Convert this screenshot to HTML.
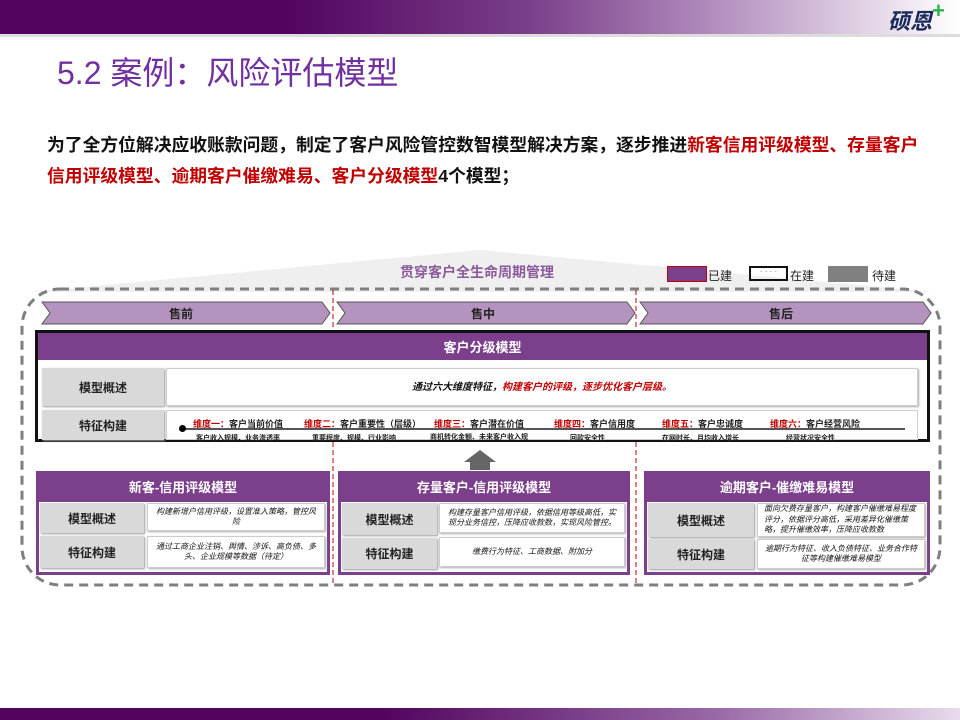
<!DOCTYPE html>
<html><head><meta charset="utf-8"><style>
*{margin:0;padding:0;box-sizing:border-box}
body{width:960px;height:720px;position:relative;overflow:hidden;background:#fff;font-family:"Liberation Sans","Noto Sans CJK SC",sans-serif}
.a{position:absolute}
.c{display:flex;align-items:center;justify-content:center;text-align:center}
.lab{background:#d9d9d9;font-weight:bold;font-size:12px;color:#222;box-shadow:1px 1px 2px #999}
.cnt{background:#fff;border:1px solid #ccc;font-size:8px;font-style:italic;color:#111;box-shadow:1px 1px 2px #aaa;line-height:1.3;padding:0 6px}
.hd{background:#7b3f8c;color:#fff;font-weight:bold;font-size:13px}
.r{color:#c00000}
.sub{font-size:7px;font-weight:bold;color:#222}
.dim{font-size:9px;font-weight:bold;color:#222}
</style></head><body>
<div class="a" style="left:0;top:0;width:960px;height:34px;background:linear-gradient(90deg,#52055f 0%,#52055f 30%,#7a3f8a 55%,#b48fbf 75%,#fff 100%)"></div>
<div class="a" style="left:0;top:34px;width:960px;height:3px;background:#ddd"></div>
<div class="a" style="left:888px;top:4px;font-size:22px;font-weight:bold;font-style:italic;color:#1a2a5a">硕恩</div>
<div class="a" style="left:932px;top:-2px;font-size:22px;font-weight:bold;color:#2db34a">+</div>
<div class="a" style="left:57px;top:48px;font-size:32px;color:#7030a0">5.2 案例：风险评估模型</div>
<div class="a" style="left:47px;top:130px;width:884px;font-size:17.8px;font-weight:bold;line-height:31px;color:#111">为了全方位解决应收账款问题，制定了客户风险管控数智模型解决方案，逐步推进<span class="r">新客信用评级模型、存量客户信用评级模型、逾期客户催缴难易、客户分级模型</span>4个模型；</div>
<svg class="a" style="left:0;top:0" width="960" height="720">
<polygon points="30,292 480,250 935,292" fill="#efefef"/>
<rect x="22" y="289" width="918" height="296" rx="38" fill="none" stroke="#7f7f7f" stroke-width="3" stroke-dasharray="9,6"/>
<line x1="333" y1="290" x2="333" y2="585" stroke="#c00000" stroke-dasharray="5,3"/>
<line x1="636" y1="290" x2="636" y2="585" stroke="#c00000" stroke-dasharray="5,3"/>
<polygon points="42,302 322,302 330,313 322,324 42,324 50,313" fill="#b593bf" stroke="#555"/>
<polygon points="337,302 627,302 635,313 627,324 337,324 345,313" fill="#b593bf" stroke="#555"/>
<polygon points="640,302 923,302 931,313 923,324 640,324 648,313" fill="#b593bf" stroke="#555"/>
<text x="181" y="318" font-size="12" font-weight="bold" text-anchor="middle" fill="#222">售前</text>
<text x="483" y="318" font-size="12" font-weight="bold" text-anchor="middle" fill="#222">售中</text>
<text x="781" y="318" font-size="12" font-weight="bold" text-anchor="middle" fill="#222">售后</text>
<polygon points="470,470 470,462 464,462 480,450 496,462 490,462 490,470" fill="#666"/>
</svg>
<div class="a" style="left:400px;top:262px;font-size:14px;font-weight:bold;color:#8a5a9a">贯穿客户全生命周期管理</div>
<div class="a" style="left:667px;top:266px;width:40px;height:16px;background:#7b3f8c;border:1px solid #c00000"></div>
<div class="a" style="left:708px;top:267px;font-size:12px;color:#222">已建</div>
<div class="a" style="left:749px;top:266px;width:39px;height:15px;border:2px solid #111;font-size:8px;text-align:center;line-height:8px;color:#666">· · · ·</div>
<div class="a" style="left:790px;top:267px;font-size:12px;color:#222">在建</div>
<div class="a" style="left:828px;top:266px;width:40px;height:16px;background:#808080"></div>
<div class="a" style="left:872px;top:267px;font-size:12px;color:#222">待建</div>

<div class="a" style="left:35px;top:330px;width:895px;height:112px;border:3px solid #111;background:#fff"></div>
<div class="a hd c" style="left:38px;top:333px;width:889px;height:27px">客户分级模型</div>
<div class="a lab c" style="left:42px;top:368px;width:122px;height:38px">模型概述</div>
<div class="a cnt c" style="left:166px;top:368px;width:752px;height:38px;font-size:10px;font-weight:bold">通过六大维度特征，<span class="r">构建客户的评级，逐步优化客户层级。</span></div>
<div class="a lab c" style="left:42px;top:410px;width:122px;height:30px">特征构建</div>
<div class="a" style="left:166px;top:410px;width:752px;height:30px;background:#fff;border:1px solid #ccc"></div>
<div class="a" style="left:183px;top:428px;width:722px;height:2px;background:#555"></div>
<div class="a" style="left:179px;top:425px;width:7px;height:7px;border-radius:50%;background:#000"></div>
<div class="a dim" style="left:193px;top:417px"><span class="r">维度一：</span>客户当前价值</div>
<div class="a dim" style="left:304px;top:417px"><span class="r">维度二：</span>客户重要性（层级）</div>
<div class="a dim" style="left:434px;top:417px"><span class="r">维度三：</span>客户潜在价值</div>
<div class="a dim" style="left:554px;top:417px"><span class="r">维度四：</span>客户信用度</div>
<div class="a dim" style="left:662px;top:417px"><span class="r">维度五：</span>客户忠诚度</div>
<div class="a dim" style="left:770px;top:417px"><span class="r">维度六：</span>客户经营风险</div>
<div class="a sub" style="left:196px;top:433px">客户收入规模、业务渗透率</div>
<div class="a sub" style="left:312px;top:433px">重要程度、规模、行业影响</div>
<div class="a sub" style="left:430px;top:432px">商机转化金额、未来客户收入规</div>
<div class="a sub" style="left:570px;top:433px">回款安全性</div>
<div class="a sub" style="left:662px;top:433px">在网时长、月均收入增长</div>
<div class="a sub" style="left:786px;top:433px">经营状况安全性</div>

<div class="a" style="left:36px;top:471px;width:294px;height:104px;background:#7b3f8c"></div>
<div class="a hd c" style="left:36px;top:471px;width:294px;height:31px">新客-信用评级模型</div>
<div class="a" style="left:39px;top:502px;width:288px;height:70px;background:#fff"></div>
<div class="a lab c" style="left:40px;top:503px;width:104px;height:30px">模型概述</div>
<div class="a cnt c" style="left:147px;top:503px;width:178px;height:28px">构建新增户信用评级，设置准入策略，管控风险</div>
<div class="a lab c" style="left:40px;top:536px;width:104px;height:32px">特征构建</div>
<div class="a cnt c" style="left:147px;top:536px;width:178px;height:32px">通过工商企业注销、舆情、涉诉、高负债、多头、企业规模等数据（待定）</div>

<div class="a" style="left:338px;top:471px;width:292px;height:104px;background:#7b3f8c"></div>
<div class="a hd c" style="left:338px;top:471px;width:292px;height:31px">存量客户-信用评级模型</div>
<div class="a" style="left:341px;top:502px;width:286px;height:70px;background:#fff"></div>
<div class="a lab c" style="left:342px;top:503px;width:95px;height:32px">模型概述</div>
<div class="a cnt c" style="left:439px;top:503px;width:186px;height:30px">构建存量客户信用评级，依据信用等级高低，实现分业务信控，压降应收款数，实现风险管控。</div>
<div class="a lab c" style="left:342px;top:538px;width:95px;height:31px">特征构建</div>
<div class="a cnt c" style="left:439px;top:537px;width:186px;height:30px">缴费行为特征、工商数据、附加分</div>

<div class="a" style="left:644px;top:471px;width:286px;height:104px;background:#7b3f8c"></div>
<div class="a hd c" style="left:644px;top:471px;width:286px;height:31px">逾期客户-催缴难易模型</div>
<div class="a" style="left:647px;top:502px;width:280px;height:70px;background:#fff"></div>
<div class="a lab c" style="left:648px;top:503px;width:106px;height:34px">模型概述</div>
<div class="a cnt c" style="left:757px;top:503px;width:168px;height:34px;text-align:left">面向欠费存量客户，构建客户催缴难易程度评分，依据评分高低，采用差异化催缴策略，提升催缴效率，压降应收款数</div>
<div class="a lab c" style="left:648px;top:539px;width:106px;height:30px">特征构建</div>
<div class="a cnt c" style="left:757px;top:539px;width:168px;height:30px">逾期行为特征、收入负债特征、业务合作特征等构建催缴难易模型</div>

<div class="a" style="left:0;top:708px;width:960px;height:12px;background:linear-gradient(90deg,#52055f 0%,#52055f 40%,#9a6aa8 75%,#e8dcec 100%)"></div>
</body></html>
